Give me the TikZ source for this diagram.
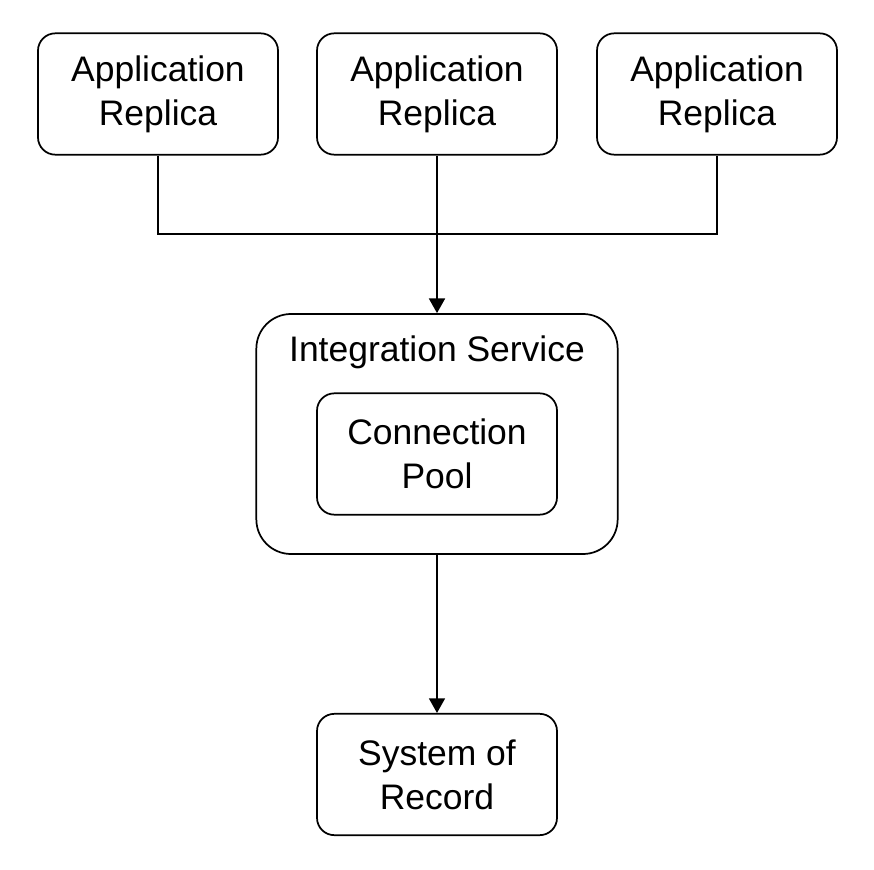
\documentclass[tikz,border=0pt]{standalone}
\usepackage{fontspec}
\setmainfont{Liberation Sans}
\usetikzlibrary{arrows.meta}

\begin{document}
\begin{tikzpicture}[x=0.75pt,y=-0.75pt]
        \useasboundingbox (0,0) rectangle (874,870);
        \begin{scope}[every node/.style={draw,line width=1.3pt,rounded corners=13pt,
                minimum width=180pt,minimum height=91pt,align=center,
                font=\fontsize{26.6}{33}\selectfont}]
            \node (app1) at (158,94) {Application\\Replica};
            \node (app2) at (437,94) {Application\\Replica};
            \node (app3) at (717,94) {Application\\Replica};

            \node[minimum width=271pt,minimum height=180pt,rounded corners=26pt] (integ) at (437,434) {};
            \node (pool) at (437,454) {Connection\\Pool};

            \node (sor) at (437,774.5) {System of\\Record};
        \end{scope}
        \node[font=\fontsize{26.6}{33}\selectfont] (integlabel) at (437,352) {Integration Service};

        \coordinate (join) at (437,234);
        \begin{scope}[>={Triangle[width=12pt,length=11pt]}, line width=1.3pt]
            \draw (app1.south) |- (join);
            \draw (app3.south) |- (join);
            \draw [->] (app2.south) -- (integ.north);
            \draw [->] (integ.south) -- (sor.north);
        \end{scope}
    \end{tikzpicture}
\end{document}
